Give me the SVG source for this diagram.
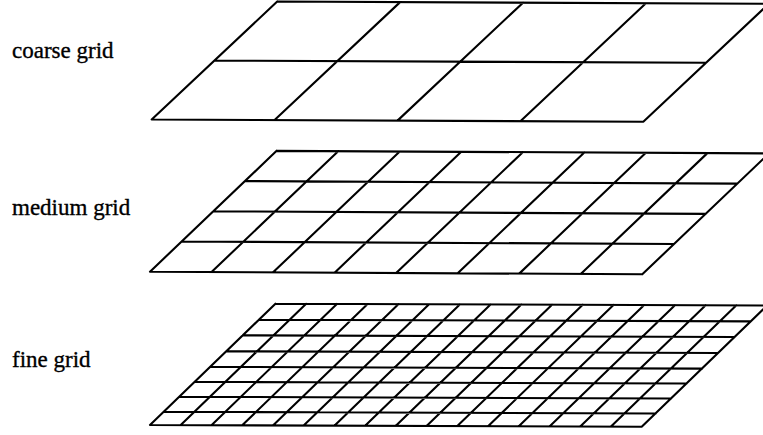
<svg xmlns="http://www.w3.org/2000/svg" width="763" height="435" viewBox="0 0 763 435">
<style>
.grid{fill:none;stroke:#000;stroke-width:2.1;stroke-linecap:round;stroke-linejoin:round}
.lbl{font-family:"Liberation Serif","Times New Roman",serif;font-size:23px;fill:#000;stroke:#000;stroke-width:0.35}
</style>
<rect width="763" height="435" fill="#fff"/>
<g id="coarse">
<text class="lbl" x="12" y="58">coarse grid</text>
<g transform="rotate(0.26 151.7 119.5)">
<path class="grid" d="M151.7 119.5H643.3M214.2 60.25H705.8M276.7 1H768.3
M151.7 119.5L276.7 1M274.6 119.5L399.6 1M397.5 119.5L522.5 1M520.4 119.5L645.4 1M643.3 119.5L768.3 1"/>
</g>
</g>
<g id="medium">
<text class="lbl" x="12" y="215">medium grid</text>
<g transform="rotate(0.3 150 271.7)">
<path class="grid" d="M150 271.7H642.3M181.5 241.3H673.8M213 211H705.3M244.5 180.6H736.8M276 150.2H768.3
M150 271.7L276 150.2M211.54 271.7L337.54 150.2M273.08 271.7L399.08 150.2M334.61 271.7L460.61 150.2M396.15 271.7L522.15 150.2M457.69 271.7L583.69 150.2M519.23 271.7L645.23 150.2M580.76 271.7L706.76 150.2M642.3 271.7L768.3 150.2"/>
</g>
</g>
<g id="fine">
<text class="lbl" x="12" y="367">fine grid</text>
<g transform="rotate(0.2 150 425)">
<path class="grid" d="M150 425H641.7M164.0 411.7H655.7M179.4 396.7H671.1M194.8 381.7H686.5M210.2 366.7H701.9M226.0 351H717.7M242.5 335H734.2M258.5 319.3H750.2M275 303.3H766.7
M150 425L275 303.3M180.73 425L305.73 303.3M211.46 425L336.46 303.3M242.19 425L367.19 303.3M272.93 425L397.93 303.3M303.66 425L428.66 303.3M334.39 425L459.39 303.3M365.12 425L490.12 303.3M395.85 425L520.85 303.3M426.58 425L551.58 303.3M457.31 425L582.31 303.3M488.04 425L613.04 303.3M518.78 425L643.78 303.3M549.51 425L674.51 303.3M580.24 425L705.24 303.3M610.97 425L735.97 303.3M641.7 425L766.7 303.3"/>
</g>
</g>
</svg>
